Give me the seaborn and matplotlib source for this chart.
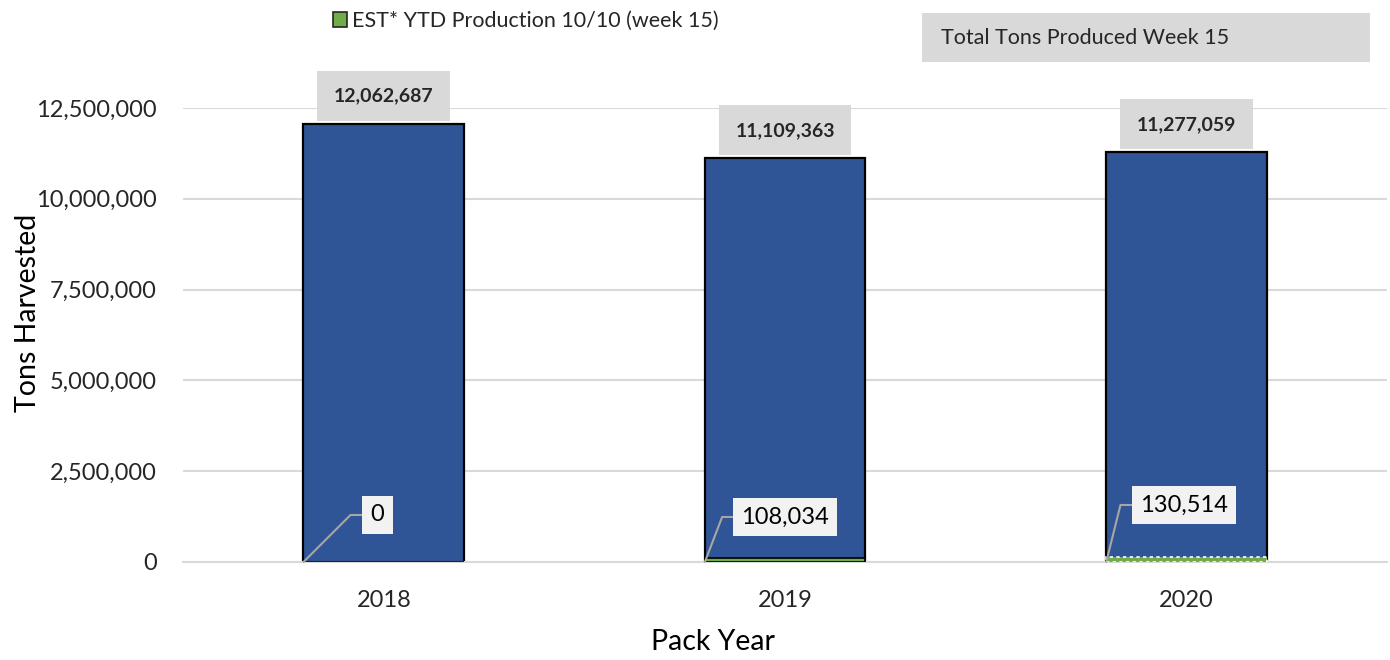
import numpy as np
import pandas as pd
import matplotlib as mpl
mpl.use('Agg')
import matplotlib.pyplot as plt
from matplotlib.patches import Patch, Rectangle
from matplotlib.ticker import FuncFormatter, MultipleLocator
import seaborn as sns

# data
pack_years = ['2018', '2019', '2020']
total_tons = [12062687, 11109363, 11277059]
est_ytd_tons = [0, 108034, 130514]

legend_label = 'EST* YTD Production 10/10 (week 15)'
total_label = 'Total Tons Produced Week 15'

BLUE = '#2F5597'
GREEN = '#70AD47'
GRID = '#D9D9D9'

# label layout (pixels) for the small-value callouts
callout_offsets = [(74, 47), (80, 45), (78, 57)]
callout_angles = [45, 69, 76]


def main():
    sns.set_style('white')
    plt.rcParams['font.family'] = ['Lato', 'DejaVu Sans']

    df = pd.DataFrame({'year': pack_years, 'total': total_tons, 'est': est_ytd_tons})

    fig = plt.figure(figsize=(13.9, 6.6), dpi=100)
    ax = fig.add_axes([0.1317, 0.1485, 0.8663, 0.688])

    sns.barplot(data=df, x='year', y='total', color=BLUE, width=0.4, saturation=1,
                edgecolor='black', linewidth=1.6, ax=ax, zorder=2)
    sns.barplot(data=df, x='year', y='est', color=GREEN, width=0.4, saturation=1,
                edgecolor='black', linewidth=1.2, ax=ax, zorder=3)

    # the 2020 estimate bar has a dashed white border in the source
    green_bars = ax.containers[1].patches
    green_bars[-1].set_edgecolor('white')
    green_bars[-1].set_linestyle((0, (2, 2)))

    ax.set_ylim(0, 12500000)
    ax.set_xlim(-0.5, 2.5)
    ax.yaxis.set_major_locator(MultipleLocator(2500000))
    ax.yaxis.set_major_formatter(FuncFormatter(lambda v, p: '{:,.0f}'.format(v)))
    ax.grid(axis='y', color=GRID, linewidth=1.5, zorder=0)
    ax.set_axisbelow(True)
    for s in ['top', 'right', 'left']:
        ax.spines[s].set_visible(False)
    ax.spines['bottom'].set_color(GRID)
    ax.spines['bottom'].set_linewidth(1.5)
    ax.tick_params(axis='both', length=0, labelsize=17, colors='#262626')
    ax.tick_params(axis='x', pad=20)
    ax.tick_params(axis='y', pad=19)

    ax.set_xlabel('Pack Year', fontsize=20.5, color='black')
    ax.set_ylabel('Tons Harvested', fontsize=20.5, color='black')
    ax.xaxis.set_label_coords(0.44, -0.148)
    ax.yaxis.set_label_coords(-0.118, 0.548)

    # totals above the bars
    for p in ax.containers[0].patches:
        ax.annotate('{:,.0f}'.format(p.get_height()),
                    xy=(p.get_x() + p.get_width() / 2, p.get_height()),
                    xytext=(0, 28), textcoords='offset pixels',
                    ha='center', va='center', fontsize=14, fontweight='bold',
                    bbox=dict(boxstyle='square,pad=0.85', fc='#D9D9D9', ec='none'),
                    annotation_clip=False, zorder=5)

    # estimate callouts with leader lines
    for p, off, ang in zip(green_bars, callout_offsets, callout_angles):
        ax.annotate('{:,.0f}'.format(p.get_height()),
                    xy=(p.get_x(), p.get_y()),
                    xytext=off, textcoords='offset pixels',
                    ha='center', va='center', fontsize=17, color='black',
                    bbox=dict(boxstyle='square,pad=0.35', fc='#F2F2F2', ec='none'),
                    arrowprops=dict(arrowstyle='-', color='#A6A6A6', lw=1.5,
                                    shrinkA=0, shrinkB=0, relpos=(0, 0.5),
                                    connectionstyle='angle,angleA=180,angleB={},rad=0'.format(ang)),
                    annotation_clip=False, zorder=6)

    fig.legend([Patch(facecolor=GREEN, edgecolor='#262626', linewidth=1.2)], [legend_label],
               loc='center left', bbox_to_anchor=(0.2395, 0.968), frameon=False,
               fontsize=15.5, handlelength=0.65, handleheight=0.65, handletextpad=0.25,
               borderaxespad=0, borderpad=0)

    fig.patches.append(Rectangle((922 / 1390, 1 - 62 / 660), 448 / 1390, 49 / 660,
                                 transform=fig.transFigure, fc='#D9D9D9', ec='none'))
    fig.text(941 / 1390, 1 - 38 / 660, total_label, fontsize=15.5, va='center', ha='left')

    plt.savefig('out.png', dpi=100)


if __name__ == '__main__':
    main()
